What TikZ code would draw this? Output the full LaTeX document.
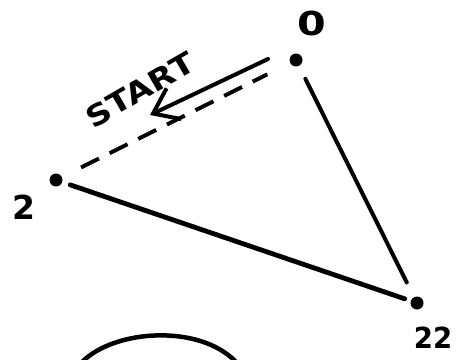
\documentclass[tikz,border=0pt]{standalone}
\usepackage{fontspec}
\setmainfont{DejaVu Sans}
\usetikzlibrary{arrows.meta}
\tikzset{
  dot/.style={circle,fill=black,inner sep=0pt,minimum size=13pt},
  lbl/.style={inner sep=0pt,font=\bfseries},
  edge/.style={line width=4pt,line cap=round},
}
\begin{document}
\begin{tikzpicture}[x=1pt,y=-1pt]
\useasboundingbox (0,0) rectangle (460,359);
\node[dot] (d0) at (296,60) {};
\node[dot] (d2) at (56,180) {};
\node[dot] (d22) at (417,303) {};
\node[lbl,font=\bfseries\fontsize{33}{33}\selectfont] (l0) at (312,23) {\scalebox{1.25}[1]{0}};
\node[lbl,font=\bfseries\fontsize{33}{33}\selectfont] (l2) at (24,207) {2};
\node[lbl,font=\bfseries\fontsize{29}{29}\selectfont] (l22) at (433,338) {\scalebox{0.95}[1]{22}};
\node[lbl,rotate=30,font=\bfseries\fontsize{29}{29}\selectfont] (st) at (140,90) {\scalebox{1.18}[1]{START}};
\draw[edge,shorten <=21pt,shorten >=23pt] (d0.center) -- (d22.center);
\draw[edge,line width=4.8pt,shorten <=15pt,shorten >=13pt] (d2.center) -- (d22.center);
\draw[edge,line cap=butt,dash pattern=on 20pt off 12pt,shorten <=28pt,shorten >=32pt] (d2.center) -- (d0.center);
\coordinate (as) at (268,59);
\coordinate (ae) at (150,115);
\draw[edge,-{Straight Barb[length=23pt,width=34pt,line width=4pt]}] (as) -- (ae);
\draw[line width=4.5pt] (82,362) .. controls (115,329) and (200,324) .. (236,362);
\end{tikzpicture}
\end{document}
